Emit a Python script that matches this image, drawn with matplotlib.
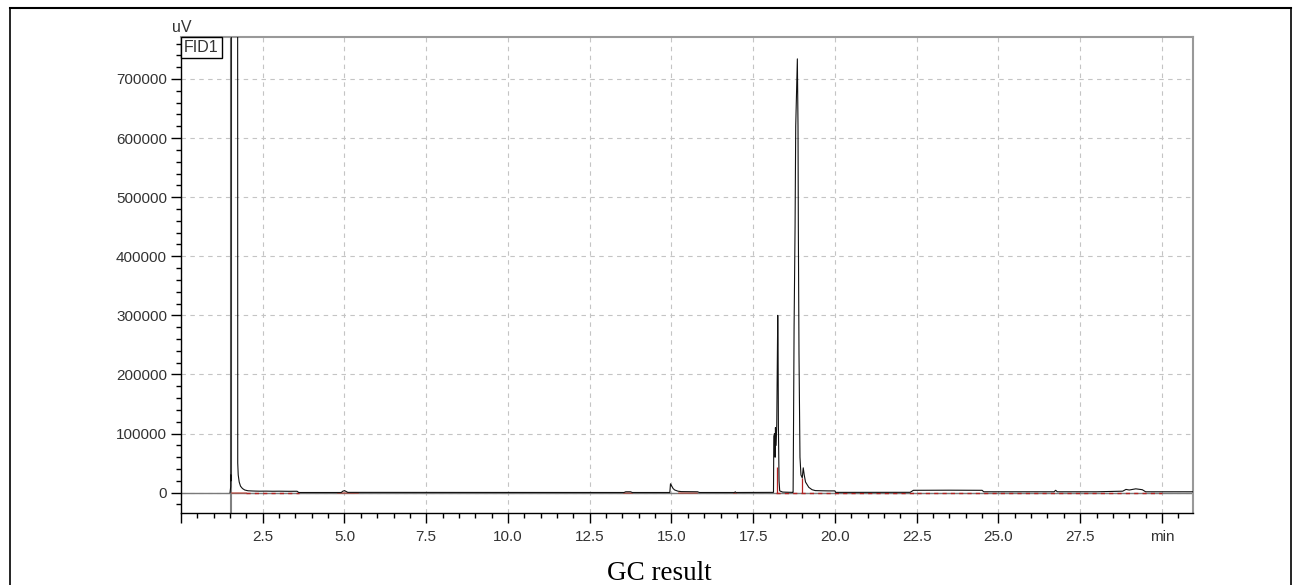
import matplotlib
matplotlib.use("Agg")
import matplotlib.pyplot as plt
import matplotlib.ticker as mticker
from matplotlib.lines import Line2D

# chromatogram trace (retention time in min, signal in uV)
trace_t = [1.50, 1.52, 1.525, 1.53, 1.545, 1.56, 1.70, 1.73, 1.735, 1.75, 1.78, 1.82,
           1.88, 1.95, 2.05, 2.2, 2.4, 2.6, 2.8, 3.0, 3.3, 3.55, 3.6,
           4.9, 4.95, 5.0, 5.05, 5.1,
           13.55, 13.6, 13.75, 13.8,
           14.95, 14.97, 15.0, 15.05, 15.1, 15.2, 15.3, 15.8, 15.85,
           16.93, 16.95, 16.97,
           18.12, 18.13, 18.15, 18.17, 18.18, 18.2, 18.22, 18.25, 18.26, 18.27, 18.29, 18.31, 18.4,
           18.7, 18.72, 18.73, 18.75, 18.78, 18.8, 18.85, 18.87, 18.88, 18.9, 18.93, 18.96, 19.0,
           19.03, 19.06, 19.1, 19.2, 19.3, 19.4, 19.6, 19.8, 20.0, 20.02,
           22.3, 22.4, 23.5, 24.5, 24.55,
           26.7, 26.75, 26.8,
           28.0, 28.8, 28.9, 29.0, 29.2, 29.4, 29.5, 30.95]
trace_v = [0, 10000, 30000, 20000, 1500000, 2000000, 2000000, 1500000, 50000, 30000, 18000, 11000,
           7000, 4500, 3200, 2800, 2500, 2600, 2400, 2500, 2300, 2400, 300,
           300, 2500, 3500, 2000, 500,
           300, 1500, 1500, 300,
           300, 15000, 12000, 7000, 4500, 2500, 1800, 1500, 300,
           300, 1500, 300,
           500, 95000, 100000, 60000, 110000, 80000, 115000, 300000, 250000, 115000, 20000, 3000, 1000,
           500, 500, 85000, 280000, 450000, 620000, 734000, 620000, 450000, 236000, 60000, 30000, 25000,
           42000, 30000, 18000, 9000, 5000, 3500, 3200, 3000, 3000, 500,
           600, 4000, 4200, 4000, 1500,
           1500, 4000, 1500,
           1500, 2500, 5500, 4500, 6500, 5000, 1500, 1500]

# integration baselines (start, end) in min
base_solid = [(1.55, 2.0), (4.8, 5.4), (13.54, 13.78), (15.23, 15.77), (16.9, 16.98)]
base_dashed = [(2.0, 3.6), (18.2, 22.5), (22.5, 30.0)]
# peak drop lines (time, height)
drop_t = [18.23, 18.98]
drop_h = [43000, 25000]

y_ticks = [0, 100000, 200000, 300000, 400000, 500000, 600000, 700000]

plt.rcParams["font.family"] = ["Liberation Sans", "DejaVu Sans"]

fig = plt.figure(figsize=(12.98, 5.85), dpi=100)
ax = fig.add_axes([181 / 1298, 1 - 513 / 585, (1193 - 181) / 1298, (513 - 37) / 585])

ax.set_xlim(0, 30.95)
ax.set_ylim(-34400, 771000)

ax.grid(True, which="major", color="#c4c4c4", linestyle=(0, (4, 4)), linewidth=0.8)
ax.axhline(0, color="#7a7a7a", linewidth=1.0, zorder=2)
ax.axvline(1.52, color="#808080", linewidth=1.5, zorder=2)

for a, b in base_solid:
    ax.plot([a, b], [0, 0], color="#c0392b", linewidth=1.2, alpha=0.6, zorder=3)
for a, b in base_dashed:
    ax.plot([a, b], [0, 0], color="#b22222", linewidth=1.0, linestyle=(0, (3, 3)), zorder=3)
ax.vlines(drop_t, 0, drop_h, color="#b22222", linewidth=0.9, zorder=3)

ax.plot(trace_t, trace_v, color="#111111", linewidth=0.8, zorder=4)

ax.xaxis.set_major_locator(mticker.MultipleLocator(2.5))
ax.xaxis.set_minor_locator(mticker.MultipleLocator(0.5))
ax.xaxis.set_major_formatter(mticker.FuncFormatter(
    lambda x, _: "" if x < 1 else ("min" if abs(x - 30) < 0.01 else f"{x:.1f}")))
ax.set_yticks(y_ticks)
ax.yaxis.set_minor_locator(mticker.MultipleLocator(20000))
ax.yaxis.set_major_formatter(mticker.FuncFormatter(lambda y, _: f"{y:.0f}"))

ax.tick_params(axis="both", which="major", direction="out", length=7, width=1,
               labelsize=11, labelcolor="#333333", pad=3)
ax.tick_params(axis="both", which="minor", direction="out", length=3.5, width=1)
ax.tick_params(axis="x", which="major", pad=5)

for side in ["top", "right"]:
    ax.spines[side].set_color("#999999")
    ax.spines[side].set_linewidth(1.5)
for side in ["left", "bottom"]:
    ax.spines[side].set_color("black")
    ax.spines[side].set_linewidth(1.0)

ax.text(-0.009, 1.004, "uV", transform=ax.transAxes, fontsize=11.5, color="#333333",
        ha="left", va="bottom")
ax.text(0.003, 0.994, "FID1", transform=ax.transAxes, fontsize=11.5, color="#333333",
        ha="left", va="top", zorder=6,
        bbox=dict(boxstyle="square,pad=0.18", facecolor="white", edgecolor="black", linewidth=1))

fig.text(659 / 1298, 1 - 573 / 585, "GC result", fontsize=19.5, family="Liberation Serif",
         ha="center", va="center")

# document frame around the figure
fig.add_artist(Line2D([10 / 1298, 1291 / 1298], [1 - 8 / 585] * 2, transform=fig.transFigure,
                      color="black", linewidth=1.5))
fig.add_artist(Line2D([10 / 1298] * 2, [0, 1 - 8 / 585], transform=fig.transFigure,
                      color="black", linewidth=1.2))
fig.add_artist(Line2D([1291 / 1298] * 2, [0, 1 - 8 / 585], transform=fig.transFigure,
                      color="black", linewidth=1.2))

fig.savefig("out.png", dpi=100)
